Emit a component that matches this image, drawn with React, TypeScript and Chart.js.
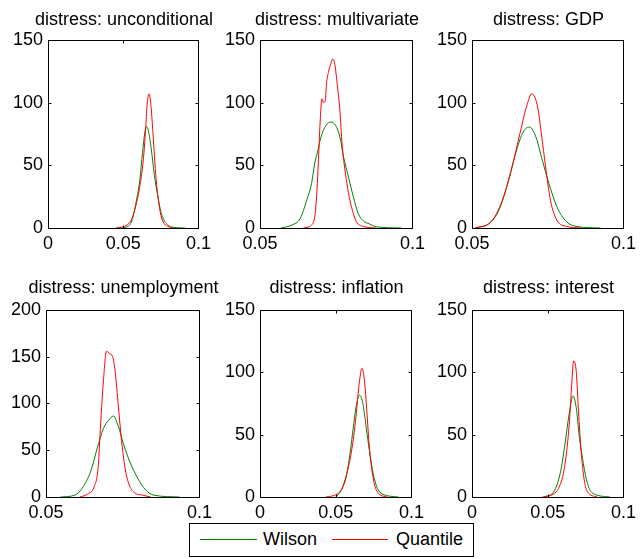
import React, { useEffect, useRef } from "react";
import { Chart, registerables } from "chart.js";

Chart.register(...registerables);

const FONT = "'Liberation Sans', Arial, Helvetica, sans-serif";
const GREEN = "#008000";
const RED = "#ff0000";

// ---------- data (x in distress rate, y in density) ----------
const uncondWilsonX = [0.0483, 0.0526, 0.0558, 0.059, 0.0611, 0.0628, 0.0643, 0.0654, 0.0667, 0.0686, 0.0707, 0.0729, 0.075, 0.0771, 0.0792, 0.0814, 0.091];
const uncondWilsonY = [0, 1, 6, 23.5, 39, 60, 76, 81, 77.6, 63, 42, 26, 13, 6.3, 3, 1, 0];
const uncondQuantX = [0.0451, 0.0526, 0.0558, 0.059, 0.0611, 0.0632, 0.0649, 0.0658, 0.0671, 0.0684, 0.0697, 0.071, 0.0722, 0.0735, 0.075, 0.0771, 0.0803, 0.0835];
const uncondQuantY = [0, 2.4, 7.7, 20.9, 34, 52.6, 79, 97.6, 107, 97.6, 76.4, 52.6, 34, 20.9, 10.3, 3.7, 1, 0];

const multiWilsonX = [0.0569, 0.0605, 0.0632, 0.0653, 0.0669, 0.0679, 0.069, 0.07, 0.0716, 0.0732, 0.0748, 0.0762, 0.0774, 0.079, 0.0806, 0.0822, 0.0838, 0.0859, 0.088, 0.0964];
const multiWilsonY = [0, 2.4, 7.7, 22, 35.4, 51, 62, 72.5, 81.7, 84.4, 81.7, 72.5, 56.6, 40.7, 24.9, 11.6, 5.8, 3.2, 1, 0];
const multiQuantX = [0.0642, 0.0669, 0.0681, 0.0688, 0.0693, 0.0698, 0.0703, 0.0708, 0.0714, 0.0718, 0.0725, 0.0732, 0.0739, 0.0746, 0.0753, 0.0762, 0.0769, 0.0776, 0.0785, 0.0795, 0.0806, 0.0816, 0.0838, 0.088];
const multiQuantY = [0, 2.4, 11.6, 35.4, 62, 88, 103, 100, 101.5, 115, 125, 130.7, 134.7, 129.5, 115, 93.7, 67, 51, 35.4, 22, 11.6, 5, 1.3, 0];

const gdpWilsonX = [0.051, 0.0557, 0.0589, 0.0621, 0.0647, 0.0669, 0.069, 0.0711, 0.0732, 0.0754, 0.078, 0.0812, 0.0844, 0.0924];
const gdpWilsonY = [0, 3.7, 14.3, 38, 62, 76.5, 80.4, 72.5, 54, 35.4, 17, 5, 1.3, 0];
const gdpQuantX = [0.051, 0.0563, 0.06, 0.0632, 0.0658, 0.0679, 0.0698, 0.0717, 0.0729, 0.0743, 0.0759, 0.078, 0.0812, 0.086];
const gdpQuantY = [0, 5, 22, 48.7, 75, 96, 107, 96, 75, 48.7, 22, 6.3, 1.3, 0];

const unempWilsonX = [0.0547, 0.0594, 0.0621, 0.0647, 0.0668, 0.0687, 0.0704, 0.072, 0.0736, 0.0752, 0.0773, 0.0799, 0.0825, 0.0851, 0.0935];
const unempWilsonY = [0, 2, 11, 28.7, 53.5, 73, 82, 86.5, 75, 57, 37.6, 19.9, 7.4, 2, 0];
const unempQuantX = [0.061, 0.0636, 0.0657, 0.067, 0.0678, 0.0687, 0.0697, 0.0708, 0.0717, 0.0725, 0.0736, 0.0746, 0.0757, 0.077, 0.0788, 0.0814, 0.0841];
const unempQuantY = [0, 3.2, 11, 32, 78, 124, 155.7, 153, 150, 135, 96, 60.6, 32, 13.8, 4.6, 2, 0];

const inflWilsonX = [0.0499, 0.0531, 0.0569, 0.0594, 0.0616, 0.0637, 0.0658, 0.068, 0.0701, 0.0722, 0.0747, 0.0775, 0.0807, 0.0913];
const inflWilsonY = [0, 4.2, 16.1, 34.7, 55.8, 74.3, 81.7, 74.3, 55.8, 37.3, 18.8, 6.9, 2.4, 0];
const inflQuantX = [0.0435, 0.051, 0.0541, 0.0573, 0.0605, 0.0633, 0.0654, 0.0673, 0.069, 0.0705, 0.0722, 0.0739, 0.076, 0.0786, 0.0839];
const inflQuantY = [0, 2.4, 6.9, 18.8, 37.3, 63.7, 90, 103, 92.9, 69, 40, 21.4, 8.2, 2.4, 0];

const intWilsonX = [0.0476, 0.0539, 0.0582, 0.0614, 0.0641, 0.0667, 0.0688, 0.0709, 0.0735, 0.0762, 0.0794, 0.0911];
const intWilsonY = [0, 4.2, 18.8, 42.6, 66.4, 81, 71.7, 47.9, 26.7, 10.9, 3.3, 0];
const intQuantX = [0.0465, 0.0539, 0.0571, 0.0603, 0.0628, 0.0645, 0.0658, 0.0671, 0.0688, 0.0703, 0.072, 0.0741, 0.0762, 0.0826];
const intQuantY = [0, 2.4, 6.9, 18.8, 40, 63.7, 90, 109, 100.8, 69, 37.3, 13.5, 4.2, 0];

const panelTitles = [
  "distress: unconditional",
  "distress: multivariate",
  "distress: GDP",
  "distress: unemployment",
  "distress: inflation",
  "distress: interest",
];
const xMins = [0, 0.05, 0.05, 0.05, 0, 0];
const xMaxes = [0.1, 0.1, 0.1, 0.1, 0.1, 0.1];
const yMaxes = [150, 150, 150, 200, 150, 150];
const xStep = 0.05;
const yStep = 50;
const seriesNames = ["Wilson", "Quantile"];

const wilsonXs = [uncondWilsonX, multiWilsonX, gdpWilsonX, unempWilsonX, inflWilsonX, intWilsonX];
const wilsonYs = [uncondWilsonY, multiWilsonY, gdpWilsonY, unempWilsonY, inflWilsonY, intWilsonY];
const quantXs = [uncondQuantX, multiQuantX, gdpQuantX, unempQuantX, inflQuantX, intQuantX];
const quantYs = [uncondQuantY, multiQuantY, gdpQuantY, unempQuantY, inflQuantY, intQuantY];

// ---------- layout (plot-area pixel boxes: left, right, top, bottom) ----------
const plotBoxes = [
  [48, 204, 39, 228],
  [260, 418, 39, 228],
  [472, 629, 39, 228],
  [46, 205, 309, 497],
  [260, 417, 309, 497],
  [472, 629, 309, 497],
];
const titleBaselines = [25, 25, 25, 293, 293, 293];

const Y_AXIS_W = 48;
const X_AXIS_H = 28;
const PAD_TOP = 15;
const PAD_RIGHT = 12;
const TICK_IN = 3;

const toPoints = (xs: number[], ys: number[]) => xs.map((x, i) => ({ x, y: ys[i] }));

const fmt = (v: number | string) => {
  const n = Number(v);
  if (Math.abs(n) < 1e-12) return "0";
  return String(parseFloat(n.toFixed(4)));
};

const boxPlugin = {
  id: "matlabBox",
  afterDraw(chart: any) {
    const { ctx, chartArea: a, scales } = chart;
    const l = Math.round(a.left) + 0.5;
    const r = Math.round(a.right) + 0.5;
    const t = Math.round(a.top) + 0.5;
    const b = Math.round(a.bottom) + 0.5;
    ctx.save();
    ctx.strokeStyle = "#000";
    ctx.lineWidth = 1;
    ctx.beginPath();
    ctx.rect(l, t, r - l, b - t);
    ctx.stroke();
    ctx.beginPath();
    scales.x.ticks.forEach((tk: any) => {
      const px = Math.round(scales.x.getPixelForValue(tk.value)) + 0.5;
      ctx.moveTo(px, b);
      ctx.lineTo(px, b - TICK_IN);
      ctx.moveTo(px, t);
      ctx.lineTo(px, t + TICK_IN);
    });
    scales.y.ticks.forEach((tk: any) => {
      const py = Math.round(scales.y.getPixelForValue(tk.value)) + 0.5;
      ctx.moveTo(l, py);
      ctx.lineTo(l + TICK_IN, py);
      ctx.moveTo(r, py);
      ctx.lineTo(r - TICK_IN, py);
    });
    ctx.stroke();
    ctx.restore();
  },
};

function Panel({ idx }: { idx: number }) {
  const ref = useRef<HTMLCanvasElement>(null);
  const [L, R, T, B] = plotBoxes[idx];
  const left = L - Y_AXIS_W;
  const top = T - PAD_TOP;
  const width = R - L + Y_AXIS_W + PAD_RIGHT;
  const height = B - T + PAD_TOP + X_AXIS_H;

  useEffect(() => {
    const tickFont = { size: 18, family: FONT };
    const chart = new Chart(ref.current as HTMLCanvasElement, {
      type: "line",
      data: {
        datasets: [
          {
            label: seriesNames[0],
            data: toPoints(wilsonXs[idx], wilsonYs[idx]),
            borderColor: GREEN,
            backgroundColor: GREEN,
            borderWidth: 1,
            pointRadius: 0,
            cubicInterpolationMode: "monotone",
            fill: false,
            order: 1,
          },
          {
            label: seriesNames[1],
            data: toPoints(quantXs[idx], quantYs[idx]),
            borderColor: RED,
            backgroundColor: RED,
            borderWidth: 1,
            pointRadius: 0,
            cubicInterpolationMode: "monotone",
            fill: false,
            order: 0,
          },
        ],
      },
      options: {
        animation: false,
        responsive: false,
        events: [],
        layout: { padding: { top: PAD_TOP, right: PAD_RIGHT, left: 0, bottom: 0 } },
        plugins: { legend: { display: false }, tooltip: { enabled: false }, title: { display: false } },
        scales: {
          x: {
            type: "linear",
            min: xMins[idx],
            max: xMaxes[idx],
            afterFit: (s: any) => {
              s.height = X_AXIS_H;
            },
            grid: { display: false, drawTicks: false },
            border: { display: false },
            ticks: {
              stepSize: xStep,
              padding: 5,
              color: "#000",
              font: tickFont,
              maxRotation: 0,
              autoSkip: false,
              callback: (v: any) => fmt(v),
            },
          },
          y: {
            type: "linear",
            min: 0,
            max: yMaxes[idx],
            afterFit: (s: any) => {
              s.width = Y_AXIS_W;
            },
            grid: { display: false, drawTicks: false },
            border: { display: false },
            ticks: {
              stepSize: yStep,
              padding: 5,
              color: "#000",
              font: tickFont,
              autoSkip: false,
              callback: (v: any) => fmt(v),
            },
          },
        },
      },
      plugins: [boxPlugin],
    } as any);
    return () => chart.destroy();
  }, [idx]);

  return (
    <canvas
      ref={ref}
      width={width}
      height={height}
      style={{ position: "absolute", left, top, width, height }}
    />
  );
}

function Title({ idx }: { idx: number }) {
  const [L, R] = plotBoxes[idx];
  const center = (L + R) / 2 - 2;
  return (
    <div
      style={{
        position: "absolute",
        left: center - 110,
        width: 220,
        top: titleBaselines[idx] - 16,
        lineHeight: "20px",
        fontSize: 18,
        fontFamily: FONT,
        textAlign: "center",
        whiteSpace: "nowrap",
        color: "#000",
      }}
    >
      {panelTitles[idx]}
    </div>
  );
}

function Legend() {
  const textStyle: React.CSSProperties = {
    position: "absolute",
    top: 5,
    fontSize: 18,
    lineHeight: "20px",
    fontFamily: FONT,
    color: "#000",
    whiteSpace: "nowrap",
  };
  const lineStyle: React.CSSProperties = {
    position: "absolute",
    top: 15,
    height: 0,
  };
  return (
    <div
      style={{
        position: "absolute",
        left: 189,
        top: 523,
        width: 285,
        height: 34,
        boxSizing: "border-box",
        border: "1px solid #000",
        background: "#fff",
      }}
    >
      <div style={{ ...lineStyle, left: 10, width: 57, borderTop: "1px solid " + GREEN }} />
      <span style={{ ...textStyle, left: 73 }}>{seriesNames[0]}</span>
      <div style={{ ...lineStyle, left: 142, width: 56, borderTop: "1px solid " + RED }} />
      <span style={{ ...textStyle, left: 206 }}>{seriesNames[1]}</span>
    </div>
  );
}

export default function App() {
  return (
    <div
      style={{
        position: "fixed",
        left: 0,
        top: 0,
        width: 640,
        height: 559,
        background: "#fff",
        overflow: "hidden",
      }}
    >
      {panelTitles.map((_, i) => (
        <Panel key={"p" + i} idx={i} />
      ))}
      {panelTitles.map((_, i) => (
        <Title key={"t" + i} idx={i} />
      ))}
      <Legend />
    </div>
  );
}
